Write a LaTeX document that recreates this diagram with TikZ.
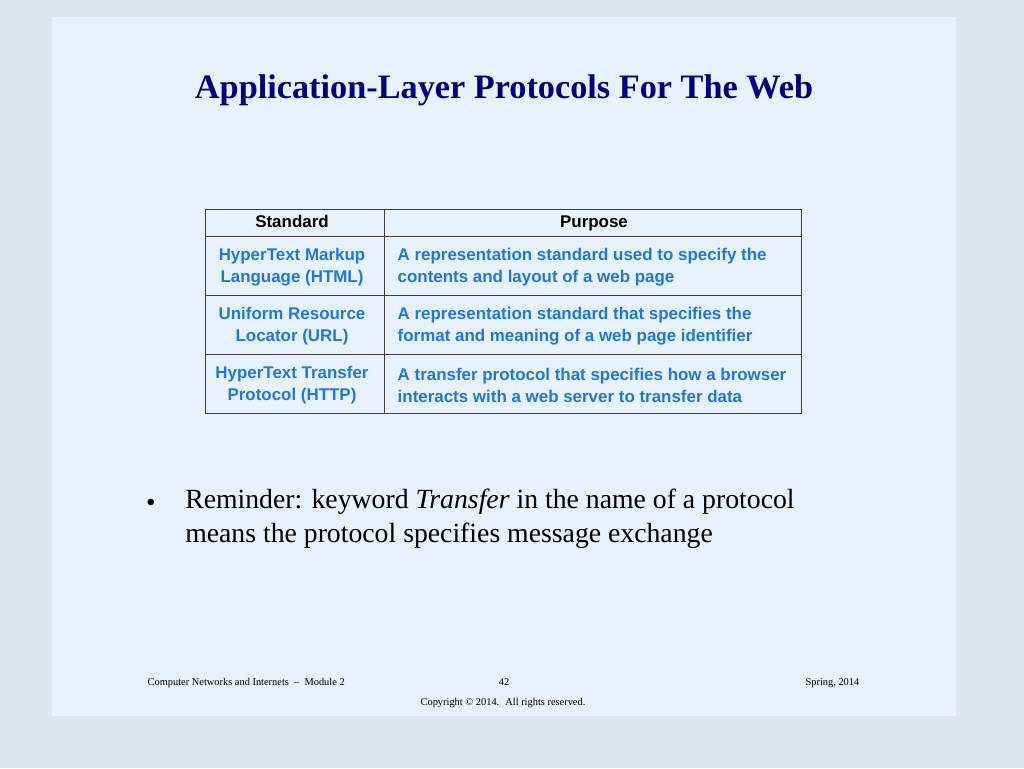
\documentclass[tikz,border=0pt]{standalone}
\usepackage{fontspec}
\setmainfont{Liberation Serif}
\newfontfamily\arial{Liberation Sans}
\definecolor{outerbg}{HTML}{DDE6EF}
\definecolor{slidebg}{HTML}{E8F2FC}
\definecolor{navy}{HTML}{000080}
\definecolor{tblue}{HTML}{1E78E0}
\begin{document}
\begin{tikzpicture}[x=0.75pt,y=-0.75pt,
  cell/.style={font=\arial\bfseries\fontsize{12.7}{16.5}\selectfont,text=tblue,align=center},
  cellL/.style={font=\arial\bfseries\fontsize{12.7}{16.5}\selectfont,text=tblue,align=left,anchor=west},
  head/.style={font=\arial\bfseries\fontsize{12.7}{16}\selectfont,text height=9pt,text depth=2.5pt},
  foot/.style={font=\fontsize{7.8}{9}\selectfont},
  rule/.style={draw=black!75,line width=0.6pt}]
\fill[outerbg] (0,0) rectangle (1024,768);
\useasboundingbox (0,0) rectangle (1024,768);
\fill[slidebg] (52,17) rectangle (956,716);
\node[text=navy,font=\bfseries\fontsize{25.7}{30}\selectfont] (title) at (504,90) {Application-Layer Protocols For The Web};
% table
\draw[rule] (205,209) rectangle (801,413);
\draw[rule] (384,209) -- (384,413);
\foreach \y in {236,295,354} \draw[rule] (205,\y) -- (801,\y);
\node[head] (h1) at (292,223) {Standard};
\node[head] (h2) at (594,223) {Purpose};
\node[cell] (s1) at (292,267) {HyperText Markup\\Language (HTML)};
\node[cellL] (p1) at (393,267) {A representation standard used to specify the\\contents and layout of a web page};
\node[cell] (s2) at (292,326) {Uniform Resource\\Locator (URL)};
\node[cellL] (p2) at (393,326) {A representation standard that specifies the\\format and meaning of a web page identifier};
\node[cell] (s3) at (292,385) {HyperText Transfer\\Protocol (HTTP)};
\node[cellL] (p3) at (393,385) {A transfer protocol that specifies how a browser\\interacts with a web server to transfer data};
\node[font=\fontsize{20.5}{24}\selectfont] (b) at (151,505) {\textbullet};
\node[anchor=north west,align=left,font=\fontsize{20.8}{25}\selectfont,inner sep=0pt] (rem) at (185,489) {Reminder: keyword \textit{Transfer} in the name of a protocol\\means the protocol specifies message exchange};
\node[foot,anchor=west] (f1) at (143,683) {Computer Networks and Internets \ -- \ Module 2};
\node[foot] (f2) at (504,682) {42};
\node[foot,anchor=east] (f3) at (864,683) {Spring, 2014};
\node[foot] (f4) at (503,703) {Copyright \textcopyright{} 2014. \ All rights reserved.};
\end{tikzpicture}
\end{document}
